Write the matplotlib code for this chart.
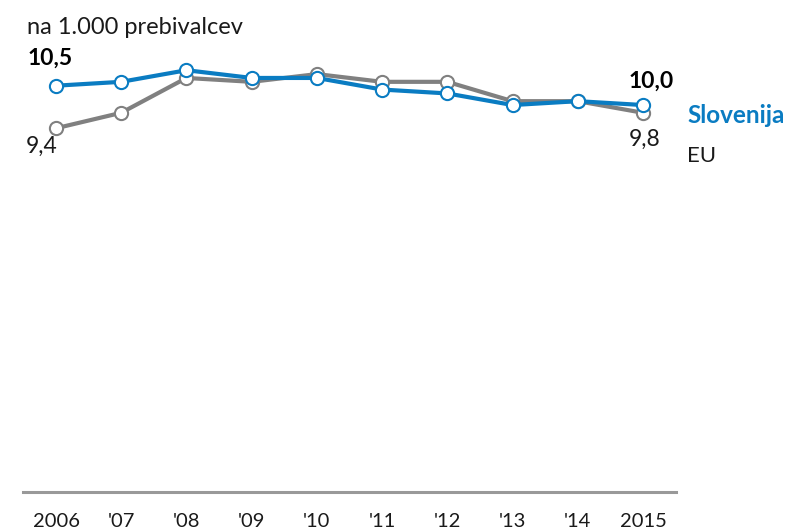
import matplotlib
matplotlib.use('Agg')
import matplotlib.pyplot as plt

# Data (na 1.000 prebivalcev)
years = [2006, 2007, 2008, 2009, 2010, 2011, 2012, 2013, 2014, 2015]
tick_labels = ['2006', "'07", "'08", "'09", "'10", "'11", "'12", "'13", "'14", '2015']
slovenija = [10.5, 10.6, 10.9, 10.7, 10.7, 10.4, 10.3, 10.0, 10.1, 10.0]
eu = [9.4, 9.8, 10.7, 10.6, 10.8, 10.6, 10.6, 10.1, 10.1, 9.8]

BLUE = '#0a7cc2'
GRAY = '#808080'
TXT = '#1a1a1a'
W, H = 803, 530

plt.rcParams['font.family'] = ['Lato', 'DejaVu Sans']

fig = plt.figure(figsize=(W / 100, H / 100), dpi=100)
ax = fig.add_axes([23.4 / W, 38 / H, 652.2 / W, 445 / H])

ax.plot(years, eu, color=GRAY, lw=3, marker='o', ms=9.5, mfc='white',
        mec=GRAY, mew=1.5, zorder=2, clip_on=False)
ax.plot(years, slovenija, color=BLUE, lw=3, marker='o', ms=9.5, mfc='white',
        mec=BLUE, mew=1.5, zorder=3, clip_on=False)

ax.set_xlim(2005.5, 2015.5)
ax.set_ylim(0, 11.5)
for s in ['top', 'right', 'left']:
    ax.spines[s].set_visible(False)
ax.spines['bottom'].set_color('#999999')
ax.spines['bottom'].set_linewidth(2.2)
ax.set_yticks([])
ax.set_xticks(years)
ax.set_xticklabels(tick_labels, fontsize=14.5, color=TXT)
ax.tick_params(axis='x', length=0, pad=15)


def label(txt, x, y, dx, dy, size, **kw):
    # dx, dy in pixels (dpi 100), positive dy = up
    ax.annotate(txt, (x, y), xytext=(dx * 0.72, dy * 0.72),
                textcoords='offset points', va='baseline', fontsize=size,
                annotation_clip=False, **kw)


label('10,5', years[0], slovenija[0], -6, 20.5, 16.5, ha='center', fontweight='bold', color='black')
label('9,4', years[0], eu[0], -14, -25, 16.5, ha='center', color=TXT)
label('10,0', years[-1], slovenija[-1], 8, 17, 16.5, ha='center', fontweight='bold', color='black')
label('9,8', years[-1], eu[-1], 2, -33, 16.5, ha='center', color=TXT)
label('Slovenija', years[-1], slovenija[-1], 44, -18, 17.5, ha='left', fontweight='bold', color=BLUE)
label('EU', years[-1], eu[-1], 44, -49, 16, ha='left', color=TXT)

fig.text(27 / W, 1 - 34 / H, 'na 1.000 prebivalcev', fontsize=17,
         va='baseline', ha='left', color=TXT)

fig.savefig('out.png', dpi=100)
